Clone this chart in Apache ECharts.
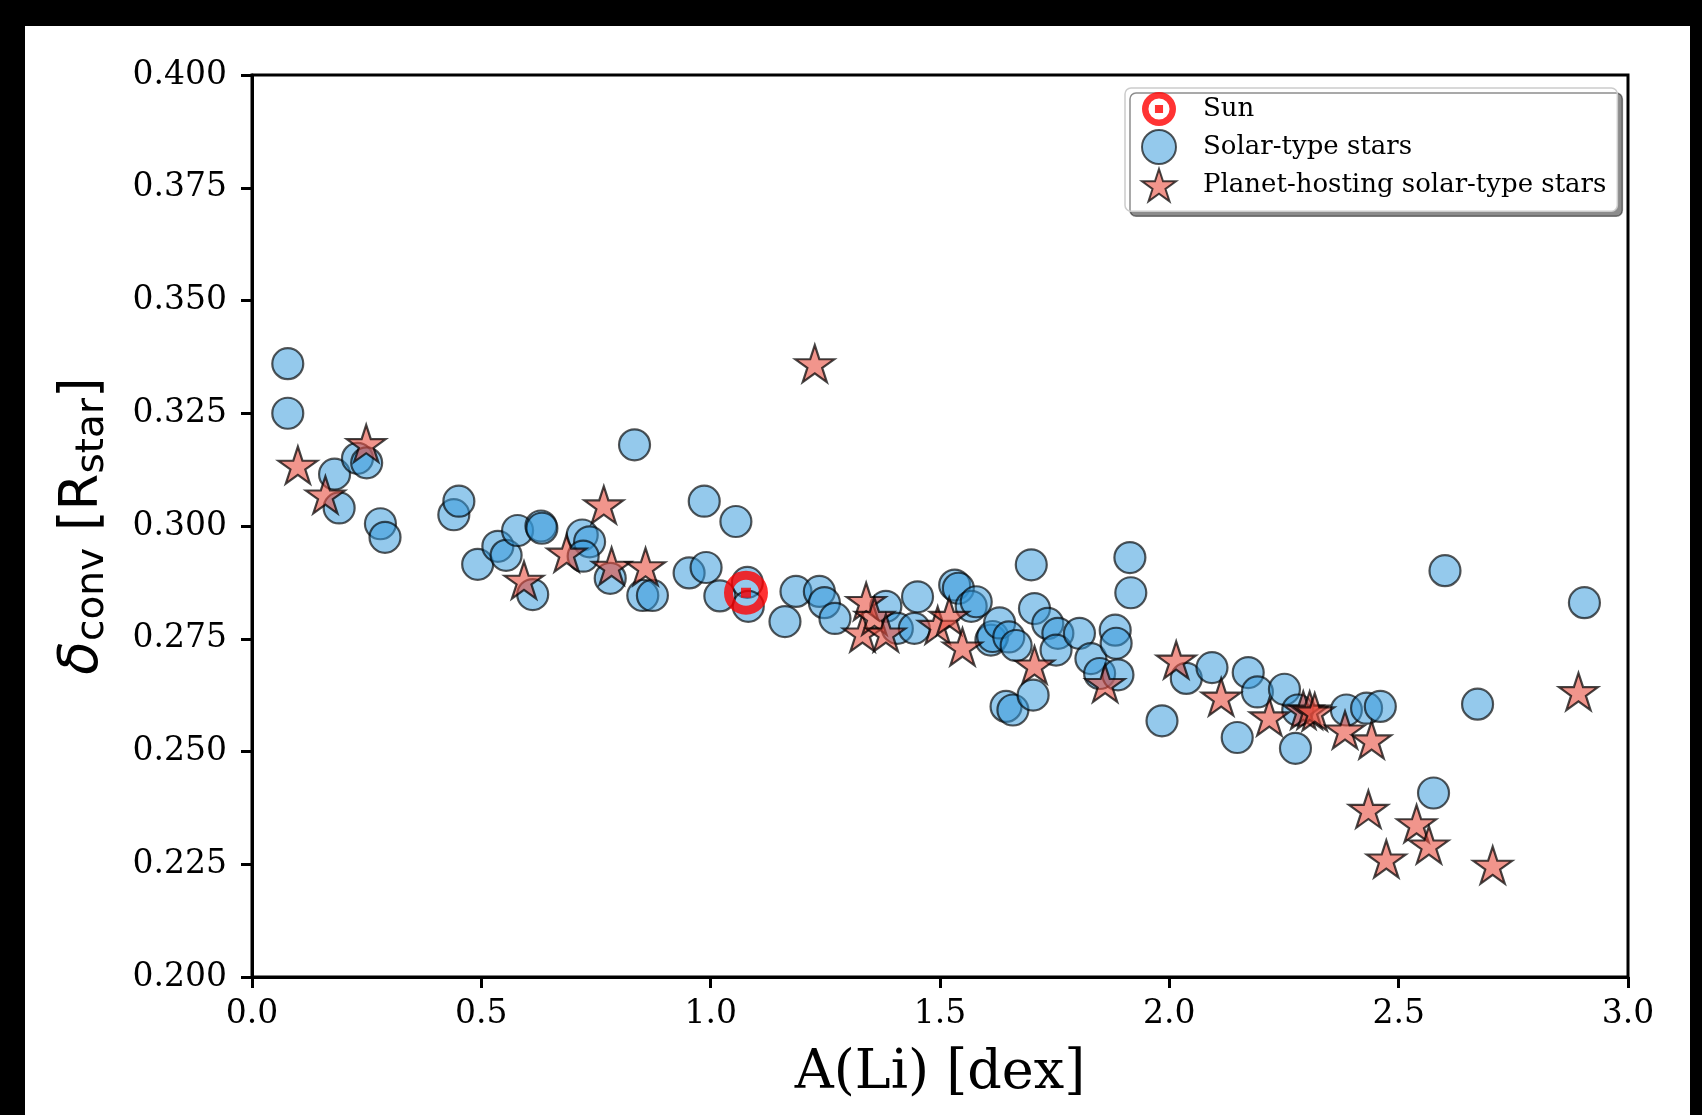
<!DOCTYPE html>
<html>
<head>
<meta charset="utf-8">
<script src="https://cdn.jsdelivr.net/npm/echarts@6/dist/echarts.min.js"></script>
<style>
html,body{margin:0;padding:0;background:#fff;}
#chart{width:1702px;height:1115px;}
</style>
</head>
<body>
<div id="chart"></div>
<script>
// ---- data (A(Li) [dex], delta_conv [R_star]) ----
const sunPoint = [[1.077, 0.2852]];

const solarTypeStars = [
  [0.078,0.336],[0.078,0.325],[0.180,0.3115],[0.190,0.304],[0.230,0.315],[0.250,0.314],
  [0.280,0.3005],[0.290,0.2975],[0.440,0.3025],[0.451,0.3055],[0.492,0.2915],[0.536,0.2955],
  [0.554,0.2935],[0.579,0.299],[0.612,0.2848],[0.630,0.300],[0.632,0.2995],[0.720,0.298],
  [0.736,0.2965],[0.722,0.2933],[0.781,0.2884],[0.834,0.318],[0.852,0.2846],[0.873,0.2846],
  [0.953,0.2896],[0.986,0.3055],[0.990,0.2908],[1.020,0.2845],[1.055,0.301],[1.080,0.2875],
  [1.082,0.2822],[1.162,0.2788],[1.186,0.2855],[1.237,0.2855],[1.248,0.283],[1.271,0.2795],
  [1.382,0.2822],[1.407,0.2773],[1.451,0.2843],[1.444,0.2773],[1.532,0.2869],[1.540,0.2862],
  [1.568,0.2822],[1.579,0.2832],[1.611,0.2747],[1.615,0.2755],[1.630,0.2785],[1.650,0.2754],
  [1.666,0.2735],[1.644,0.260],[1.659,0.2592],[1.699,0.2914],[1.703,0.2625],[1.706,0.2817],
  [1.735,0.2784],[1.757,0.2762],[1.753,0.2725],[1.804,0.2762],[1.829,0.2706],[1.848,0.2673],
  [1.882,0.2769],[1.884,0.274],[1.888,0.267],[1.914,0.293],[1.916,0.2852],[1.984,0.2568],
  [2.037,0.2662],[2.093,0.2686],[2.148,0.2531],[2.172,0.2675],[2.192,0.2632],[2.251,0.2638],
  [2.275,0.2507],[2.280,0.2592],[2.386,0.2592],[2.430,0.2596],[2.460,0.260],[2.576,0.2408],
  [2.601,0.2901],[2.672,0.2605],[2.905,0.283]
];

const planetHostingStars = [
  [0.100,0.3135],[0.160,0.3069],[0.249,0.3183],[0.593,0.2880],[0.686,0.2940],[0.767,0.3047],
  [0.784,0.2911],[0.858,0.2910],[1.227,0.3360],[1.339,0.2833],[1.331,0.2763],[1.357,0.2800],
  [1.382,0.2763],[1.495,0.2780],[1.520,0.2800],[1.549,0.2732],[1.706,0.2692],[1.860,0.2651],
  [2.015,0.2703],[2.113,0.2621],[2.218,0.2577],[2.292,0.2592],[2.306,0.2592],[2.317,0.2588],
  [2.383,0.2548],[2.441,0.2526],[2.434,0.2372],[2.539,0.2340],[2.566,0.2293],[2.473,0.2262],
  [2.705,0.2248],[2.892,0.2633]
];

const xTicks = {min: 0, max: 3, interval: 0.5};
const yTicks = {min: 0.2, max: 0.4, interval: 0.025};
const seriesNames = ['Sun', 'Solar-type stars', 'Planet-hosting solar-type stars'];

// ---- chart ----
const STAR = 'path://M0,-100L22.45,-30.9L95.1,-30.9L36.3,11.8L58.8,80.9L0,38.2L-58.8,80.9L-36.3,11.8L-95.1,-30.9L-22.45,-30.9Z';
const SUN_ICON = 'path://M-21,0A21,21,0,1,1,21,0A21,21,0,1,1,-21,0Z M-13,0A13,13,0,1,0,13,0A13,13,0,1,0,-13,0Z M-5,-5L5,-5L5,5L-5,5Z';
const SERIF = '"DejaVu Serif", serif';
const SANS = '"DejaVu Sans", sans-serif';

const chart = echarts.init(document.getElementById('chart'), null, {renderer: 'canvas'});
chart.setOption({
  backgroundColor: '#fff',
  animation: false,
  grid: {left: 252, right: 74, top: 75, bottom: 138, show: true, borderColor: '#000', borderWidth: 3, backgroundColor: 'transparent'},
  xAxis: {
    type: 'value', min: xTicks.min, max: xTicks.max, interval: xTicks.interval,
    name: 'A(Li) [dex]', nameLocation: 'middle', nameGap: 70,
    nameTextStyle: {fontFamily: SERIF, fontSize: 54, color: '#000'},
    axisLine: {show: true, onZero: false, lineStyle: {color: '#000', width: 3}},
    axisTick: {show: true, inside: false, length: 11, lineStyle: {color: '#000', width: 3}},
    axisLabel: {fontFamily: SERIF, fontSize: 33, color: '#000', margin: 21, formatter: v => v.toFixed(1)},
    splitLine: {show: false}
  },
  yAxis: {
    type: 'value', min: yTicks.min, max: yTicks.max, interval: yTicks.interval,
    name: '{d|δ}{s|conv} [R{s|star}]', nameLocation: 'middle', nameGap: 140, nameRotate: 90,
    nameTextStyle: {
      fontFamily: SANS, fontSize: 53, color: '#000',
      rich: {
        d: {fontFamily: SANS, fontStyle: 'italic', fontSize: 55, color: '#000'},
        s: {fontFamily: SANS, fontSize: 39, color: '#000', padding: [19, 0, 0, 0]}
      }
    },
    axisLine: {show: true, onZero: false, lineStyle: {color: '#000', width: 3}},
    axisTick: {show: true, inside: false, length: 11, lineStyle: {color: '#000', width: 3}},
    axisLabel: {fontFamily: SERIF, fontSize: 33, color: '#000', margin: 25, formatter: v => v.toFixed(3)},
    splitLine: {show: false}
  },
  legend: {
    orient: 'vertical', left: 1125, top: 88,
    padding: [4, 11, 9, 16], itemGap: 3, itemWidth: 34, itemHeight: 34,
    backgroundColor: '#fff', borderColor: '#cccccc', borderWidth: 1.5, borderRadius: 6,
    shadowColor: 'rgba(0,0,0,0.45)', shadowBlur: 0, shadowOffsetX: 5, shadowOffsetY: 5,
    textStyle: {fontFamily: SERIF, fontSize: 26, color: '#000', padding: [0, 0, 0, 22]},
    data: [
      {name: seriesNames[0], icon: SUN_ICON, itemStyle: {color: '#ff0000', borderWidth: 0}},
      {name: seriesNames[1]},
      {name: seriesNames[2]}
    ]
  },
  series: [
    {
      name: seriesNames[1], type: 'scatter', data: solarTypeStars, symbol: 'circle', symbolSize: 31, z: 2,
      itemStyle: {color: 'rgba(52,152,219,0.66)', borderColor: 'rgba(0,0,0,0.82)', borderWidth: 2.2}
    },
    {
      name: seriesNames[2], type: 'scatter', data: planetHostingStars, symbol: STAR, symbolSize: [39, 37], z: 3,
      itemStyle: {color: 'rgba(231,76,60,0.74)', borderColor: 'rgba(0,0,0,0.9)', borderWidth: 2.2}
    },
    {
      name: seriesNames[0], type: 'scatter', data: sunPoint, symbol: 'circle', symbolSize: 35, z: 4,
      itemStyle: {color: 'rgba(255,255,255,0)', borderColor: '#ff0000', borderWidth: 9}
    },
    {
      name: 'Sun centre', type: 'scatter', data: sunPoint, symbol: 'rect', symbolSize: 10, z: 5,
      itemStyle: {color: '#ff0000'}, legendHoverLink: false
    }
  ],
  graphic: [
    {type: 'rect', shape: {x: 0, y: 0, width: 1702, height: 26}, style: {fill: '#000'}, z: 100},
    {type: 'rect', shape: {x: 0, y: 0, width: 25, height: 1115}, style: {fill: '#000'}, z: 100},
    {type: 'rect', shape: {x: 1690, y: 0, width: 12, height: 1115}, style: {fill: '#000'}, z: 100}
  ]
});
</script>
</body>
</html>
